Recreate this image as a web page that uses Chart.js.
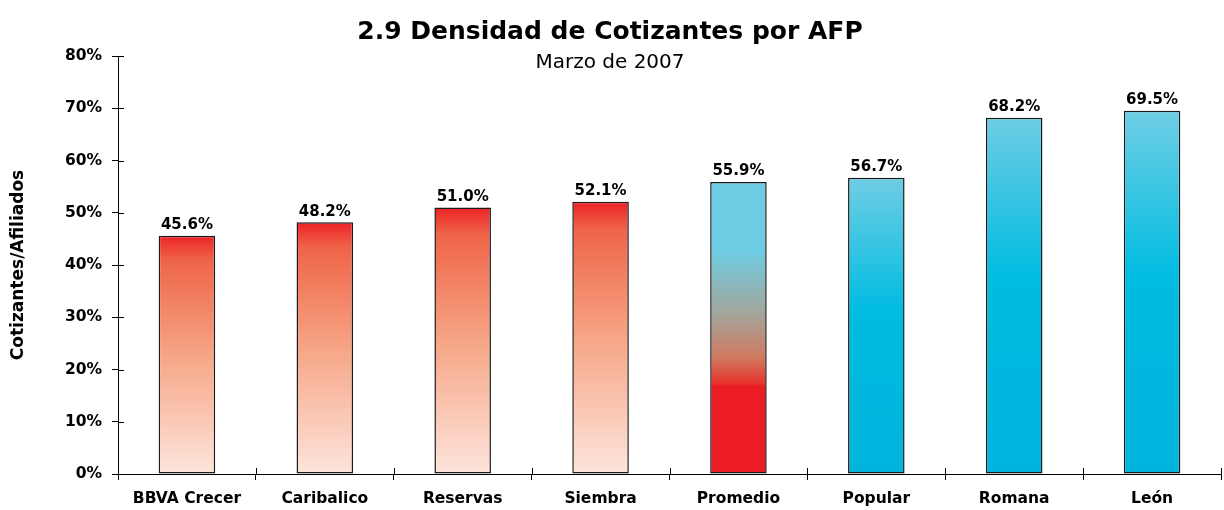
<!DOCTYPE html>
<html>
<head>
<meta charset="utf-8">
<script src="https://cdn.jsdelivr.net/npm/chart.js@4.4.0/dist/chart.umd.min.js"></script>
<style>
  html, body { margin: 0; padding: 0; background: #fff; }
  #wrap { width: 1224px; height: 510px; position: relative; }
</style>
</head>
<body>
<div id="wrap"><canvas id="densidad"></canvas></div>
<script>
// datos
const afps = ['BBVA Crecer', 'Caribalico', 'Reservas', 'Siembra', 'Promedio', 'Popular', 'Romana', 'León'];
const densidad = [45.6, 48.2, 51.0, 52.1, 55.9, 56.7, 68.2, 69.5];
const tipo = ['rojo', 'rojo', 'rojo', 'rojo', 'promedio', 'azul', 'azul', 'azul'];
const yTicks = [0, 10, 20, 30, 40, 50, 60, 70, 80];

const FONT = "'DejaVu Sans', sans-serif";

// color stops per bar type
const stops = {
  rojo: [[0, '#ec2227'], [0.1, '#ef6448'], [0.5, '#f6a585'], [1, '#fde5dc']],
  promedio: [[0, '#6dcde4'], [0.23, '#6dcde4'], [0.45, '#a3a69c'], [0.6, '#cf7a60'], [0.69, '#e8332c'], [0.7, '#ec1c24'], [1, '#ec1c24']],
  azul: [[0, '#6fcde4'], [0.45, '#00bce1'], [1, '#00b4dd']]
};

function barFill(ctx) {
  const chart = ctx.chart;
  const area = chart.chartArea;
  if (!area) return '#ccc';
  const y = chart.scales.y;
  const top = y.getPixelForValue(densidad[ctx.dataIndex]);
  const bottom = y.getPixelForValue(0);
  const g = chart.ctx.createLinearGradient(0, top, 0, bottom);
  stops[tipo[ctx.dataIndex]].forEach(s => g.addColorStop(s[0], s[1]));
  return g;
}

// titles + value labels + crossing tick marks
const extras = {
  id: 'extras',
  afterDraw(chart) {
    const c = chart.ctx;
    const area = chart.chartArea;
    const cx = 610;
    c.save();
    c.fillStyle = '#000';
    c.textAlign = 'center';
    c.textBaseline = 'alphabetic';
    c.font = 'bold 25px ' + FONT;
    c.fillText('2.9 Densidad de Cotizantes por AFP', cx, 39);
    c.font = '20px ' + FONT;
    c.fillText('Marzo de 2007', cx, 68);

    c.font = 'bold 15px ' + FONT;
    c.textBaseline = 'bottom';
    chart.getDatasetMeta(0).data.forEach((bar, i) => {
      c.fillText(densidad[i].toFixed(1) + '%', bar.x, bar.y - 3);
    });

    // inner halves of the axis ticks
    c.strokeStyle = '#000';
    c.lineWidth = 1;
    const y = chart.scales.y;
    c.beginPath();
    y.ticks.forEach((t, i) => {
      const py = Math.round(y.getPixelForTick(i)) + 0.5;
      c.moveTo(area.left, py);
      c.lineTo(area.left + 6, py);
    });
    for (let i = 0; i <= afps.length; i++) {
      const px = Math.round(area.left + (area.right - area.left) * i / afps.length) + 0.5;
      c.moveTo(px, area.bottom);
      c.lineTo(px, area.bottom - 6);
    }
    c.stroke();
    c.restore();
  }
};

new Chart(document.getElementById('densidad'), {
  type: 'bar',
  data: {
    labels: afps,
    datasets: [{
      data: densidad,
      backgroundColor: barFill,
      borderColor: '#1a1a1a',
      borderWidth: 1.5,
      borderSkipped: false,
      barPercentage: 0.41,
      categoryPercentage: 1
    }]
  },
  options: {
    responsive: true,
    maintainAspectRatio: false,
    animation: false,
    layout: { padding: { top: 56, right: 3, left: 0, bottom: 0 } },
    plugins: {
      legend: { display: false },
      tooltip: { enabled: false }
    },
    scales: {
      x: {
        offset: true,
        grid: {
          offset: true,
          drawOnChartArea: false,
          drawTicks: true,
          tickLength: 6,
          color: '#000'
        },
        border: { color: '#000', width: 1 },
        ticks: {
          color: '#000',
          padding: 10,
          font: { family: FONT, weight: 'bold', size: 15.5 },
          maxRotation: 0
        },
        afterFit(scale) { scale.height = 36; }
      },
      y: {
        min: 0,
        max: 80,
        afterBuildTicks(scale) { scale.ticks = yTicks.map(v => ({ value: v })); },
        grid: {
          drawOnChartArea: false,
          drawTicks: true,
          tickLength: 6,
          color: '#000'
        },
        border: { color: '#000', width: 1 },
        ticks: {
          color: '#000',
          padding: 10,
          font: { family: FONT, weight: 'bold', size: 15.5 },
          callback: v => v + '%'
        },
        title: {
          display: true,
          text: 'Cotizantes/Afiliados',
          color: '#000',
          font: { family: FONT, weight: 'bold', size: 17 },
          padding: { top: 8, bottom: 0 }
        },
        afterFit(scale) { scale.width = 118; }
      }
    }
  },
  plugins: [extras]
});
</script>
</body>
</html>
